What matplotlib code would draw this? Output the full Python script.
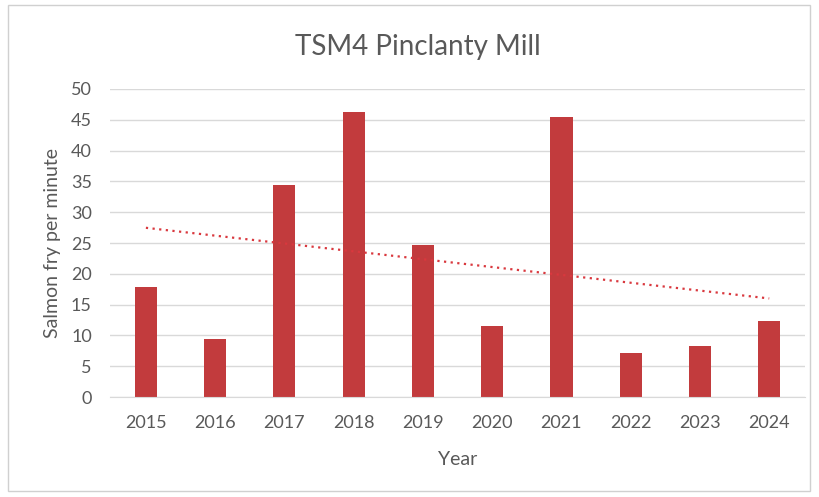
import matplotlib.pyplot as plt
from matplotlib.patches import Rectangle
import numpy as np

years = ['2015', '2016', '2017', '2018', '2019', '2020', '2021', '2022', '2023', '2024']
fry_per_minute = [17.9, 9.4, 34.4, 46.3, 24.7, 11.5, 45.5, 7.1, 8.3, 12.3]

plt.rcParams['font.family'] = ['Lato', 'DejaVu Sans']

fig = plt.figure(figsize=(8.2, 4.97), dpi=100)
ax = fig.add_axes([0.134, 0.201, 0.848, 0.620])

x = np.arange(len(years))
ax.bar(x, fry_per_minute, width=0.32, color='#C23B3D', zorder=2)

# linear trendline, same as excel's
slope, intercept = np.polyfit(x, fry_per_minute, 1)
ax.plot(x, slope * x + intercept, linestyle=(0, (1, 2)), color='#D9383E', linewidth=1.6, zorder=3)

ax.set_xlim(-0.52, len(years) - 0.48)
ax.set_ylim(0, 50)
ax.set_yticks(range(0, 55, 5))
ax.set_xticks(x, years)
ax.grid(axis='y', color='#D9D9D9', linewidth=1, zorder=0)
for s in ['top', 'right', 'left']:
    ax.spines[s].set_visible(False)
ax.spines['bottom'].set_color('#D9D9D9')
ax.tick_params(length=0, labelsize=13, labelcolor='#595959')
ax.tick_params(axis='x', pad=13)
ax.tick_params(axis='y', pad=13)

ax.set_ylabel('Salmon fry per minute', fontsize=14, color='#595959', labelpad=7)
ax.set_xlabel('Year', fontsize=14, color='#595959', labelpad=14)
fig.text(0.51, 0.905, 'TSM4 Pinclanty Mill', ha='center', va='center', fontsize=20, color='#595959')

# chart frame
fig.patches.append(Rectangle((0.01, 0.012), 0.978, 0.978, transform=fig.transFigure,
                             fill=False, edgecolor='#D0D0D0', linewidth=1))

fig.savefig('out.png', dpi=100)
